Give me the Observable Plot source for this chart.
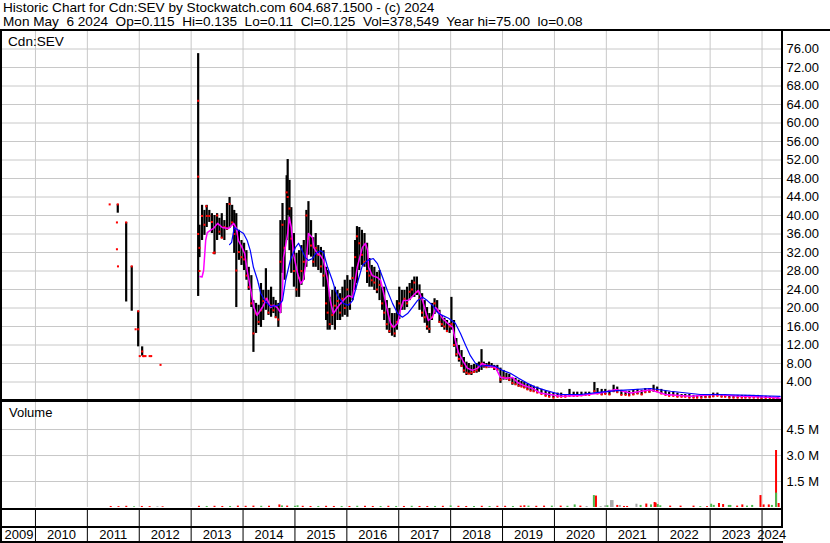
<!DOCTYPE html>
<html><head><meta charset="utf-8">
<script src="https://cdn.jsdelivr.net/npm/d3@7"></script>
<script src="https://cdn.jsdelivr.net/npm/@observablehq/plot@0.6"></script>
<style>
body{margin:0;background:#fff;}
#wrap{position:relative;width:830px;height:543px;overflow:hidden;background:#fff;font-family:"Liberation Sans",Arial,sans-serif;color:#000;}
.t{position:absolute;left:3px;font-size:13.6px;line-height:14px;white-space:pre;}
.ln{position:absolute;background:#000;}
.pl{position:absolute;left:0;}
</style></head><body><div id="wrap"></div>
<script>
// ---------- DATA ----------
const titleLine1 = "Historic Chart for Cdn:SEV by Stockwatch.com 604.687.1500 - (c) 2024";
const titleLine2 = "Mon May  6 2024  Op=0.115  Hi=0.135  Lo=0.11  Cl=0.125  Vol=378,549  Year hi=75.00  lo=0.08";
const symbolLabel = "Cdn:SEV";
const volumeLabel = "Volume";
const yearLabels = [2009,2010,2011,2012,2013,2014,2015,2016,2017,2018,2019,2020,2021,2022,2023,2024];
const priceTicks = [4,8,12,16,20,24,28,32,36,40,44,48,52,56,60,64,68,72,76];
const volTicks = [1.5,3.0,4.5];

// daily-bar samples: time (decimal year), high, low, close
const barT = [2011.586,2011.748,2011.855,2011.979,2012.056,
2013.135,2013.16,2013.21,2013.256,2013.30,2013.35,2013.40,2013.45,2013.50,2013.545,
2013.59,2013.64,2013.69,2013.74,2013.79,2013.83,2013.87,2013.92,2013.97,2014.02,
2014.065,2014.11,2014.16,2014.20,2014.25,2014.30,2014.345,2014.39,2014.44,2014.49,
2014.54,2014.585,2014.63,2014.68,2014.72,2014.76,2014.80,2014.84,2014.86,2014.895,
2014.93,2014.98,2015.03,2015.08,2015.125,2015.17,2015.22,2015.26,2015.31,2015.355,
2015.40,2015.45,2015.50,2015.55,2015.60,2015.63,2015.67,2015.72,2015.77,2015.82,
2015.87,2015.915,2015.96,2016.01,2016.06,2016.11,2016.16,2016.195,2016.24,2016.29,
2016.34,2016.39,2016.435,2016.48,2016.53,2016.58,2016.63,2016.68,2016.72,2016.77,
2016.82,2016.87,2016.92,2016.965,2017.01,2017.06,2017.11,2017.16,2017.21,2017.255,
2017.30,2017.35,2017.40,2017.45,2017.50,2017.545,2017.59,2017.64,2017.69,2017.74,
2017.785,2017.83,2017.88,2017.93,2017.98,2018.015,2018.065,2018.11,2018.16,2018.21,
2018.255,2018.305,2018.35,2018.40,2018.45,2018.50,2018.545,2018.595,2018.64,2018.69,
2018.74,2018.79,2018.84,2018.90,2018.96,2019.02,2019.075,2019.13,2019.19,2019.25,
2019.31,2019.365,2019.42,2019.48,2019.54,2019.60,2019.67,2019.75,2019.83,2019.90,
2019.98,2020.06,2020.13,2020.21,2020.29,2020.37,2020.44,2020.52,2020.60,2020.67,
2020.77,2020.83,2020.91,2020.98,2021.06,2021.14,2021.21,2021.29,2021.37,2021.44,
2021.52,2021.60,2021.68,2021.75,2021.83,2021.91,2021.98,2022.06,2022.14,2022.21,
2022.29,2022.37,2022.45,2022.52,2022.60,2022.68,2022.75,2022.83,2022.91,2022.99,
2023.06,2023.14,2023.22,2023.29,2023.37,2023.45,2023.53,2023.61,2023.68,2023.76,
2023.84,2023.92,2023.99,2024.07,2024.15,2024.22,2024.30,2024.345];
const barHi = [42.4,38.5,29.0,19.3,11.6,
75.0,37.9,42.2,41.1,42.2,41.1,40.4,40.0,40.4,39.4,
40.4,38.9,42.6,43.9,42.2,41.1,40.4,36.8,34.6,34.0,
32.4,28.8,27.0,21.6,21.0,20.6,25.3,23.8,28.5,23.8,
24.5,22.3,21.6,21.0,38.9,42.6,38.9,48.6,52.1,47.6,
41.7,36.1,31.8,32.4,33.5,34.6,41.1,43.0,38.9,35.2,
36.1,33.5,33.1,32.4,28.8,28.1,22.3,23.8,24.5,23.8,
23.1,24.5,26.0,27.0,26.0,28.8,34.6,37.6,37.4,36.8,
36.1,34.0,30.7,29.2,28.8,27.7,28.1,24.5,24.5,21.6,
19.9,18.8,18.8,21.6,24.5,23.8,23.8,24.5,25.3,26.0,
26.7,26.7,25.0,23.1,21.6,20.1,18.8,21.0,22.0,21.6,
19.5,18.4,17.8,17.3,16.7,22.3,17.3,13.4,11.9,10.8,
9.3,8.3,8.0,7.6,7.8,8.0,8.3,11.0,8.3,8.0,
8.3,8.0,7.6,7.6,7.0,6.5,5.9,5.7,4.8,4.8,
4.4,4.1,3.9,3.5,3.3,3.1,2.9,2.4,2.0,1.8,
1.6,1.6,1.6,1.3,2.4,1.8,1.8,1.8,1.8,1.8,
3.9,2.6,2.4,2.4,2.2,3.3,2.9,2.2,2.0,2.0,
2.2,2.4,2.2,2.6,2.6,3.3,2.9,2.4,2.0,1.8,
1.8,1.6,1.3,1.3,1.3,1.1,1.1,1.1,1.3,1.3,
1.6,1.6,1.3,1.3,1.1,1.1,1.1,1.1,1.1,1.1,
1.1,1.1,0.9,0.9,0.8,0.7,0.6,0.135];
const barLo = [40.5,21.3,19.3,11.6,9.6,
22.5,30.9,34.6,35.7,37.4,38.5,36.1,31.5,34.6,35.7,
35.0,34.6,36.8,37.2,37.8,31.8,20.1,30.3,29.2,28.1,
26.0,23.8,20.1,10.4,14.5,16.2,15.8,17.3,19.5,18.4,
18.0,18.8,17.8,15.8,18.8,27.5,26.0,34.6,40.0,32.4,
27.5,24.5,22.3,22.3,24.9,26.0,28.8,31.4,31.0,28.8,
28.8,28.1,27.5,24.5,17.3,15.2,15.2,16.2,15.2,17.3,
17.3,18.0,18.4,18.0,19.5,21.6,23.8,25.3,28.1,29.2,
28.8,25.3,24.5,24.5,23.8,23.1,21.6,19.5,17.3,15.2,
14.5,13.9,13.6,15.2,17.5,19.5,19.5,20.1,21.6,22.3,
22.3,22.7,19.5,18.0,16.7,15.2,14.5,17.3,18.6,19.0,
16.7,15.8,15.2,14.7,14.5,15.2,11.5,9.4,8.3,7.2,
5.9,5.4,5.6,5.4,5.9,5.9,6.1,6.5,7.0,7.0,
7.0,7.0,6.5,6.3,3.7,4.4,4.4,4.1,3.3,3.3,
2.9,2.9,2.6,2.2,2.0,1.8,1.6,1.3,0.9,0.7,
0.5,0.7,0.7,0.7,0.9,0.9,0.9,0.9,1.1,1.1,
1.6,1.3,1.1,1.3,1.1,1.8,1.6,1.1,1.1,0.9,
1.1,1.3,1.1,1.6,1.6,1.8,1.8,1.3,1.1,0.9,
0.9,0.7,0.7,0.7,0.5,0.5,0.5,0.5,0.5,0.5,
0.7,0.9,0.7,0.7,0.5,0.5,0.5,0.5,0.5,0.5,
0.5,0.5,0.3,0.4,0.4,0.3,0.2,0.11];
const barCl = [42.4,38.5,29.0,15.4,10.6,
36.0,33.0,39.9,38.0,39.9,39.9,38.6,32.0,40.0,36.5,
35.2,37.5,37.2,42.5,38.5,36.0,28.1,32.1,31.0,30.5,
27.0,24.5,21.0,14.5,18.8,17.0,19.5,21.5,22.0,19.0,
20.5,19.5,18.0,17.5,30.0,38.0,33.0,45.0,44.0,41.5,
35.0,28.0,24.0,26.5,28.0,30.0,40.0,35.0,33.5,30.0,
33.0,31.5,29.0,27.0,21.0,19.0,16.5,18.5,20.5,21.5,
19.0,22.0,20.0,24.0,21.0,26.5,31.0,35.5,34.0,31.5,
30.0,28.0,27.0,26.0,25.5,24.0,25.0,21.0,19.0,16.5,
15.0,16.0,14.5,17.0,21.0,20.5,22.0,21.0,23.5,24.0,
25.5,23.5,22.0,19.0,18.0,16.0,15.5,18.0,21.0,19.5,
17.0,16.5,16.0,15.0,16.0,16.5,12.0,10.0,9.0,7.5,
6.5,6.0,5.8,6.0,6.2,6.5,7.5,8.0,7.5,7.2,
7.6,7.3,7.0,6.8,4.5,5.0,4.8,4.5,3.8,3.5,
3.2,3.0,2.8,2.4,2.1,2.0,1.7,1.4,1.0,0.8,
0.6,0.8,0.8,0.8,1.0,1.0,1.0,1.1,1.2,1.2,
2.0,1.5,1.3,1.4,1.3,2.0,1.8,1.2,1.2,1.1,
1.3,1.5,1.3,1.8,1.9,2.2,2.0,1.5,1.2,1.0,
1.0,0.8,0.8,0.8,0.6,0.6,0.6,0.6,0.7,0.7,
0.9,1.0,0.8,0.8,0.6,0.6,0.6,0.6,0.6,0.6,
0.6,0.6,0.4,0.5,0.5,0.4,0.3,0.125];

// isolated red close ticks
const dotT = [2011.43,2011.57,2011.57,2011.59,2011.98,2011.93,2012.01,2012.075,2012.09,2012.12,2012.20,2012.23,2012.41,2013.135,2013.135,2013.16,2013.29,2013.43];
const dotP = [42.4,38.5,32.7,29.0,19.3,15.4,9.6,9.6,9.6,9.6,9.6,9.6,7.7,64.8,48.4,28.0,42.0,31.9];

// short moving average (magenta)
const maShortT = [2013.17,2013.21,2013.24,2013.28,2013.31,2013.37,2013.43,2013.51,2013.60,2013.72,
2013.82,2013.87,2013.91,2013.98,2014.03,2014.08,2014.14,2014.21,2014.27,2014.37,
2014.46,2014.53,2014.59,2014.66,2014.72,2014.76,2014.78,2014.86,2014.89,2014.93,
2014.97,2015.05,2015.11,2015.16,2015.22,2015.26,2015.34,2015.36,2015.43,2015.49,
2015.55,2015.63,2015.68,2015.74,2015.82,2015.88,2015.97,2016.03,2016.11,2016.20,
2016.30,2016.36,2016.40,2016.42,2016.49,2016.59,2016.65,2016.71,2016.78,2016.84,
2016.90,2016.98,2017.03,2017.09,2017.17,2017.23,2017.32,2017.38,2017.46,2017.51,
2017.57,2017.65,2017.71,2017.76,2017.84,2017.94,2018.04,2018.09,2018.15,2018.23,
2018.32,2018.42,2018.52,2018.61,2018.73,2018.86,2018.96,2019.06,2019.19,2019.29,
2019.40,2019.58,2019.73,2020.12,2020.50,2020.89,2021.18,2021.47,2021.85,2022.14,
2022.62,2023.10,2023.58,2024.16,2024.35];
const maShortP = [26.8,26.7,28.1,34.6,36.3,36.8,37.2,38.3,37.4,37.2,
38.3,37.2,34.6,33.1,31.8,28.1,24.4,20.1,18.4,20.1,
22.1,20.1,20.6,20.1,19.0,23.8,30.9,36.1,39.6,37.4,
31.8,27.5,25.3,26.0,30.3,36.1,35.2,33.1,31.8,31.4,
30.3,26.0,21.6,18.8,20.1,21.0,22.1,22.7,22.3,28.8,
33.1,34.0,32.4,28.8,27.0,26.6,26.0,23.2,19.5,16.7,
15.8,16.7,19.5,21.6,21.6,22.1,23.2,23.8,21.6,19.5,
17.3,18.0,20.1,19.5,17.8,16.7,15.8,13.0,10.4,8.7,
7.0,6.5,7.0,8.0,7.4,7.2,5.0,4.8,5.0,3.9,
3.3,2.6,1.6,0.9,1.1,1.6,2.4,1.6,2.3,1.3,
0.9,1.3,0.9,0.7,0.5];

// long moving average (blue)
const maLongT = [2013.74,2013.78,2013.83,2013.91,2014.01,2014.08,2014.14,2014.20,2014.28,2014.34,
2014.43,2014.53,2014.68,2014.76,2014.82,2014.91,2015.01,2015.07,2015.14,2015.20,
2015.26,2015.34,2015.40,2015.49,2015.55,2015.63,2015.72,2015.78,2015.84,2015.93,
2016.03,2016.11,2016.20,2016.30,2016.40,2016.51,2016.59,2016.69,2016.78,2016.88,
2016.98,2017.07,2017.17,2017.26,2017.36,2017.46,2017.55,2017.65,2017.75,2017.84,
2017.96,2018.09,2018.19,2018.29,2018.38,2018.48,2018.57,2018.71,2018.86,2019.00,
2019.15,2019.31,2019.48,2019.63,2019.83,2020.12,2020.50,2020.89,2021.27,2021.85,
2022.24,2022.81,2023.20,2023.78,2024.35];
const maLongP = [33.7,34.2,37.4,36.8,36.1,34.6,32.4,28.8,26.0,23.2,
21.4,20.3,20.6,21.6,26.0,30.3,33.1,34.0,32.4,30.9,
30.3,30.7,31.8,32.4,32.0,28.8,26.0,23.8,22.3,21.0,
20.6,21.6,25.3,29.2,30.3,30.7,29.6,26.6,23.8,21.0,
18.8,18.0,18.8,20.1,21.6,22.3,21.6,20.6,19.0,18.4,
17.8,16.7,14.5,11.9,9.7,8.0,7.4,7.6,7.4,6.5,
5.9,4.8,3.7,2.9,2.2,1.3,1.3,1.8,2.2,2.6,
2.0,1.3,1.3,1.1,0.9];

// volume (millions), direction: d = down, u = up, f = unchanged
const volT = [2011.45,2011.60,2011.75,2011.90,2012.05,2012.20,2012.35,2012.45,
2013.15,2013.30,2013.45,2013.60,2013.75,2013.90,
2014.05,2014.20,2014.35,2014.50,2014.70,2014.75,2014.85,
2015.00,2015.05,2015.15,2015.30,2015.45,2015.60,2015.75,2015.90,
2016.05,2016.20,2016.35,2016.50,2016.65,2016.80,2016.95,
2017.10,2017.25,2017.40,2017.55,2017.70,2017.85,
2018.00,2018.15,2018.30,2018.45,2018.60,2018.75,2018.90,
2019.05,2019.20,2019.35,2019.42,2019.50,2019.65,2019.80,2019.95,
2020.12,2020.25,2020.39,2020.50,2020.62,
2020.76,2020.80,2020.89,2020.98,2021.02,2021.09,2021.12,2021.21,2021.26,2021.34,
2021.40,2021.58,2021.66,2021.77,2021.86,2021.93,2021.95,2021.99,2022.04,2022.23,
2022.43,2022.68,2022.81,2022.94,2023.02,2023.07,2023.17,2023.25,2023.36,2023.39,
2023.52,2023.62,2023.71,2023.81,2023.97,2024.03,2024.13,2024.19,2024.27,2024.27,
2024.32];
const volV = [0.06,0.05,0.07,0.04,0.06,0.05,0.04,0.04,
0.07,0.06,0.07,0.06,0.06,0.08,
0.07,0.08,0.07,0.07,0.15,0.09,0.08,
0.07,0.10,0.07,0.06,0.06,0.07,0.06,0.06,
0.06,0.07,0.07,0.06,0.06,0.07,0.06,
0.06,0.07,0.06,0.06,0.06,0.07,
0.09,0.07,0.06,0.06,0.07,0.06,0.07,
0.07,0.06,0.08,0.10,0.08,0.07,0.08,0.08,
0.08,0.07,0.15,0.08,0.06,
0.69,0.66,0.05,0.10,0.10,0.40,0.40,0.12,0.12,0.06,
0.06,0.19,0.12,0.20,0.15,0.29,0.25,0.17,0.10,0.08,
0.08,0.08,0.05,0.05,0.19,0.12,0.23,0.17,0.12,0.12,
0.08,0.15,0.08,0.12,0.69,0.15,0.15,0.12,3.29,0.83,
0.23];
const volDir = ["d","d","d","u","d","d","f","d",
"d","u","d","d","u","d",
"d","d","u","d","d","u","d",
"u","u","d","d","u","d","d","u",
"d","u","d","d","u","d","u",
"d","u","d","d","u","d",
"u","d","d","u","d","u","d",
"d","u","d","d","u","d","d","u",
"d","u","u","d","f",
"u","d","f","f","u","f","f","d","f","d",
"d","f","u","d","u","d","d","u","u","d",
"d","d","u","d","u","u","d","d","u","u",
"d","d","u","u","d","d","d","u","d","u",
"d"];

// ---------- BUILD ----------
const bars = barT.map((t,i)=>({t, hi:barHi[i], lo:barLo[i], cl:barCl[i]}));
const dots = dotT.map((t,i)=>({t, p:dotP[i]}));
const maShort = maShortT.map((t,i)=>({t, p:maShortP[i]}));
const maLong = maLongT.map((t,i)=>({t, p:maLongP[i]}));
const vols = volT.map((t,i)=>({t, v:volV[i], dir:volDir[i], i}));
const yearLines = yearLabels.slice(1);
const xDomain = [2009.365, 2024.375];
const labelsData = yearLabels.map(y=>({label:String(y), mid:(Math.max(y,xDomain[0])+Math.min(y+1,xDomain[1]))/2}));

const fontFamily = '"Liberation Sans", Arial, sans-serif';
const common = {
  width: 830, marginLeft: 2, marginRight: 49, marginTop: 0, marginBottom: 0,
  x: {domain: xDomain, axis: null},
  style: {fontFamily, fontSize: "13px", color: "#000", background: "transparent"}
};
const grid = {stroke: "#c8c8c8", strokeOpacity: 1};

const price = Plot.plot({
  ...common, height: 370,
  y: {domain: [0, 80]},
  marks: [
    Plot.gridX(yearLines, grid),
    Plot.gridY(priceTicks, grid),
    Plot.ruleX(bars, {x: "t", y1: "lo", y2: "hi", stroke: "#000", strokeWidth: 2.2}),
    Plot.dot(bars, {x: "t", y: "cl", symbol: "square", r: 1.15, fill: "#ff0000", stroke: null}),
    Plot.dot(dots, {x: "t", y: "p", symbol: "square", r: 1.15, fill: "#ff0000", stroke: null}),
    Plot.line(maShort, {x: "t", y: "p", stroke: "#ff00ff", strokeWidth: 1.5}),
    Plot.line(maLong, {x: "t", y: "p", stroke: "#0000ff", strokeWidth: 1.2}),
    Plot.axisY(priceTicks, {anchor: "right", tickSize: 0, tickPadding: 5, tickFormat: d => d.toFixed(2), fontSize: 13, label: null})
  ]
});

const dirColor = {d: "#ff0000", u: "#4cb84c", f: "#a8a8a8"};
const volume = Plot.plot({
  ...common, height: 105,
  y: {domain: [0, 6.06]},
  marks: [
    Plot.gridX(yearLines, grid),
    Plot.gridY(volTicks, grid),
    ...["f","u","d"].map(k => Plot.ruleX(vols.filter(v => v.dir === k), {x: "t", y1: 0, y2: "v", stroke: dirColor[k], strokeWidth: 2})),
    Plot.ruleX(vols.filter(v => v.i === vols.length - 2), {x: "t", y1: 0, y2: "v", stroke: dirColor.u, strokeWidth: 2}),
    Plot.axisY(volTicks, {anchor: "right", tickSize: 0, tickPadding: 5, tickFormat: d => d.toFixed(1) + " M", fontSize: 13, label: null})
  ]
});

const strip = Plot.plot({
  ...common, height: 35,
  marks: [
    Plot.ruleX(yearLines, {stroke: "#000"}),
    Plot.text(labelsData, {x: "mid", text: "label", dy: 9, fontSize: 13, fill: "#000"})
  ]
});

const wrap = document.getElementById("wrap");
function place(node, top){ const d = document.createElement("div"); d.className = "pl"; d.style.top = top + "px"; d.appendChild(node); wrap.appendChild(d); }
place(price, 30);
place(volume, 402);
place(strip, 508);

function line(l, t, w, h){ const d = document.createElement("div"); d.className = "ln"; Object.assign(d.style, {left: l+"px", top: t+"px", width: w+"px", height: h+"px"}); wrap.appendChild(d); }
line(0, 29, 830, 2);     // top border
line(0, 29, 2, 514);     // left border
line(781, 29, 2, 498);   // right border of plot area
line(0, 399, 783, 3);    // price / volume separator
line(0, 508, 783, 2);    // volume bottom
line(0, 526, 783, 2);    // strip divider
line(0, 541, 783, 2);    // bottom border

function text(str, l, t, size){ const d = document.createElement("div"); d.className = "t"; d.textContent = str; d.style.left = l + "px"; d.style.top = t + "px"; if (size) d.style.fontSize = size + "px"; wrap.appendChild(d); }
text(titleLine1, 3, 1);
text(titleLine2, 3, 15);
text(symbolLabel, 8, 35);
text(volumeLabel, 9, 406, 13);
</script>
</body></html>
